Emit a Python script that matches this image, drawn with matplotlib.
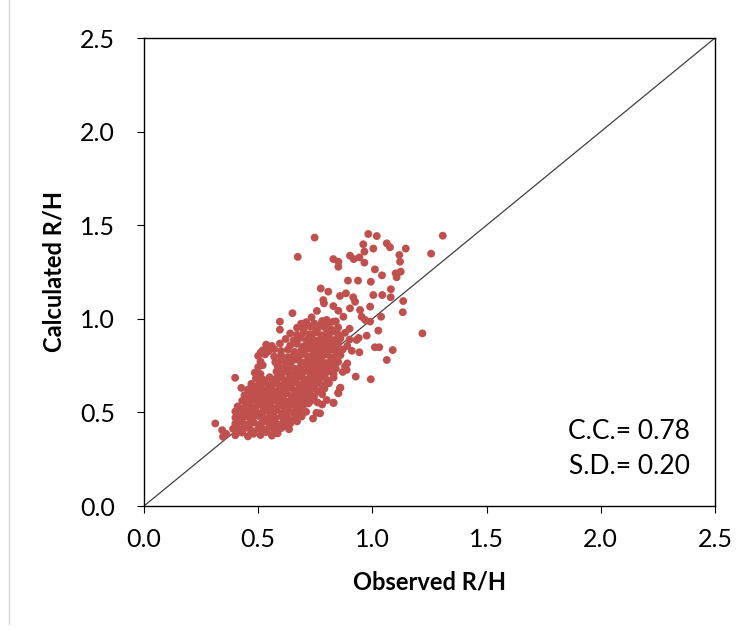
import numpy as np
import matplotlib
matplotlib.use("Agg")
import matplotlib.pyplot as plt
from matplotlib.lines import Line2D

# ---- data (Observed R/H, Calculated R/H) ----
obs_upper = [1.308, 0.982, 1.019, 0.747, 0.960, 1.063, 1.077, 1.146, 1.004, 0.965, 1.257, 1.118,
             0.902, 0.673, 0.943, 0.829, 0.918, 0.851, 1.121, 0.965, 0.851, 1.011, 1.124, 1.102,
             1.042, 1.106, 0.893, 0.937, 0.993, 0.774, 1.081, 0.807, 0.884, 1.043, 1.004, 0.858,
             0.916, 1.080, 0.785, 1.135, 0.924, 0.829, 0.990, 0.902, 0.946, 0.757, 0.851, 1.133,
             0.650, 0.873, 0.953, 1.038, 0.800, 0.968, 0.829, 0.990, 0.778, 0.734, 0.788]
calc_upper = [1.444, 1.453, 1.442, 1.434, 1.398, 1.403, 1.382, 1.375, 1.375, 1.359, 1.348, 1.341,
              1.337, 1.331, 1.328, 1.319, 1.319, 1.305, 1.305, 1.300, 1.278, 1.264, 1.252, 1.243,
              1.232, 1.222, 1.204, 1.204, 1.198, 1.162, 1.158, 1.145, 1.136, 1.127, 1.127, 1.122,
              1.115, 1.115, 1.100, 1.095, 1.091, 1.068, 1.065, 1.056, 1.047, 1.042, 1.043, 1.035,
              1.030, 1.011, 1.011, 1.011, 0.994, 0.994, 0.985, 0.985, 0.976, 1.008, 1.083]

obs_mid = [1.219, 1.026, 0.975, 1.011, 1.030, 1.089, 1.063, 0.993, 0.927, 0.943, 0.931, 0.887,
           0.858, 0.851, 0.829, 0.771, 0.399, 0.426, 0.312, 0.342, 0.346, 0.511, 0.595, 0.595,
           0.688]
calc_mid = [0.922, 0.937, 0.910, 0.848, 0.848, 0.833, 0.780, 0.677, 0.691, 0.821, 0.887, 0.727,
            0.629, 0.602, 0.552, 0.495, 0.685, 0.631, 0.441, 0.405, 0.370, 0.820, 0.985, 0.942,
            0.974]

obs_core = [
    0.36, 0.40, 0.43, 0.455, 0.48, 0.51, 0.535, 0.56, 0.585,
    0.39, 0.42, 0.445, 0.47, 0.50, 0.525, 0.55, 0.575, 0.60, 0.635,
    0.40, 0.43, 0.455, 0.48, 0.51, 0.535, 0.56, 0.585, 0.61, 0.64, 0.67,
    0.40, 0.425, 0.45, 0.475, 0.50, 0.525, 0.55, 0.575, 0.60, 0.63, 0.66, 0.69, 0.74,
    0.40, 0.43, 0.455, 0.48, 0.505, 0.53, 0.555, 0.58, 0.605, 0.63, 0.655, 0.68, 0.71, 0.755,
    0.41, 0.44, 0.465, 0.49, 0.515, 0.54, 0.565, 0.59, 0.615, 0.64, 0.665, 0.69, 0.72, 0.78,
    0.43, 0.455, 0.48, 0.505, 0.53, 0.555, 0.58, 0.605, 0.63, 0.655, 0.68, 0.705, 0.73, 0.76, 0.80, 0.83,
    0.44, 0.47, 0.495, 0.52, 0.545, 0.57, 0.595, 0.62, 0.645, 0.67, 0.695, 0.72, 0.745, 0.78, 0.85,
    0.455, 0.48, 0.51, 0.535, 0.56, 0.585, 0.61, 0.635, 0.66, 0.685, 0.71, 0.735, 0.76, 0.79, 0.86,
    0.47, 0.50, 0.53, 0.555, 0.58, 0.605, 0.63, 0.655, 0.68, 0.705, 0.73, 0.755, 0.78, 0.81,
    0.49, 0.52, 0.55, 0.575, 0.60, 0.625, 0.65, 0.675, 0.70, 0.725, 0.75, 0.775, 0.80, 0.83,
    0.485, 0.51, 0.58, 0.605, 0.63, 0.655, 0.68, 0.705, 0.73, 0.755, 0.78, 0.805, 0.83, 0.87,
    0.50, 0.52, 0.585, 0.61, 0.635, 0.66, 0.685, 0.71, 0.735, 0.76, 0.785, 0.81, 0.84, 0.88,
    0.51, 0.575, 0.60, 0.625, 0.65, 0.675, 0.70, 0.725, 0.75, 0.775, 0.80, 0.825, 0.85, 0.89,
    0.50, 0.53, 0.57, 0.60, 0.63, 0.655, 0.68, 0.705, 0.73, 0.755, 0.78, 0.805, 0.83, 0.86,
    0.52, 0.545, 0.57, 0.60, 0.63, 0.66, 0.69, 0.715, 0.74, 0.765, 0.79, 0.815, 0.84, 0.87, 0.91,
    0.535, 0.56, 0.595, 0.64, 0.67, 0.70, 0.725, 0.75, 0.775, 0.80, 0.825, 0.85, 0.89,
    0.62, 0.655, 0.685, 0.71, 0.735, 0.76, 0.785, 0.81, 0.835, 0.86, 0.90, 0.94,
    0.64, 0.67, 0.70, 0.725, 0.75, 0.775, 0.80, 0.825, 0.85, 0.88,
    0.67, 0.70, 0.73, 0.76, 0.79, 0.82, 0.85, 0.90,
    0.71, 0.745, 0.78, 0.81, 0.84,
]
calc_core = [
    0.385, 0.378, 0.392, 0.372, 0.386, 0.379, 0.395, 0.376, 0.388,
    0.412, 0.405, 0.418, 0.402, 0.414, 0.408, 0.420, 0.404, 0.416, 0.410,
    0.440, 0.448, 0.435, 0.446, 0.438, 0.450, 0.442, 0.436, 0.447, 0.440, 0.452,
    0.472, 0.465, 0.478, 0.470, 0.481, 0.467, 0.476, 0.469, 0.480, 0.472, 0.466, 0.478, 0.467,
    0.505, 0.498, 0.510, 0.502, 0.495, 0.508, 0.500, 0.512, 0.497, 0.506, 0.499, 0.511, 0.503, 0.498,
    0.532, 0.525, 0.538, 0.528, 0.540, 0.530, 0.523, 0.536, 0.529, 0.541, 0.527, 0.535, 0.548, 0.542,
    0.562, 0.555, 0.568, 0.558, 0.566, 0.552, 0.563, 0.571, 0.556, 0.565, 0.558, 0.570, 0.561, 0.553, 0.566, 0.550,
    0.592, 0.585, 0.598, 0.588, 0.596, 0.583, 0.594, 0.601, 0.587, 0.595, 0.590, 0.599, 0.586, 0.597, 0.605,
    0.622, 0.615, 0.628, 0.618, 0.626, 0.613, 0.624, 0.631, 0.617, 0.625, 0.619, 0.628, 0.614, 0.627, 0.632,
    0.652, 0.645, 0.658, 0.648, 0.656, 0.643, 0.654, 0.661, 0.647, 0.655, 0.649, 0.658, 0.644, 0.656,
    0.682, 0.676, 0.688, 0.678, 0.686, 0.673, 0.684, 0.691, 0.677, 0.685, 0.679, 0.688, 0.674, 0.686,
    0.712, 0.705, 0.718, 0.708, 0.716, 0.703, 0.714, 0.721, 0.707, 0.715, 0.709, 0.718, 0.704, 0.716,
    0.742, 0.752, 0.748, 0.738, 0.746, 0.733, 0.744, 0.751, 0.737, 0.745, 0.739, 0.748, 0.734, 0.746,
    0.772, 0.768, 0.778, 0.765, 0.776, 0.781, 0.767, 0.775, 0.769, 0.778, 0.764, 0.776, 0.770, 0.762,
    0.802, 0.810, 0.798, 0.806, 0.795, 0.808, 0.801, 0.811, 0.797, 0.805, 0.799, 0.808, 0.794, 0.806,
    0.832, 0.826, 0.838, 0.828, 0.836, 0.823, 0.834, 0.841, 0.827, 0.835, 0.829, 0.838, 0.824, 0.836, 0.829,
    0.862, 0.855, 0.868, 0.858, 0.866, 0.853, 0.864, 0.871, 0.857, 0.865, 0.859, 0.868, 0.855,
    0.892, 0.885, 0.898, 0.888, 0.896, 0.883, 0.894, 0.901, 0.887, 0.895, 0.889, 0.898,
    0.922, 0.915, 0.928, 0.918, 0.926, 0.913, 0.924, 0.931, 0.917, 0.925,
    0.952, 0.945, 0.958, 0.948, 0.956, 0.943, 0.954, 0.947,
    0.982, 0.975, 0.988, 0.978, 0.986,
]

obs_fill = [
    0.415, 0.47, 0.52, 0.57,
    0.405, 0.46, 0.51, 0.56, 0.615,
    0.415, 0.47, 0.52, 0.57, 0.625,
    0.41, 0.465, 0.515, 0.565, 0.615, 0.67,
    0.42, 0.475, 0.525, 0.575, 0.63,
    0.45, 0.50, 0.55, 0.60, 0.655, 0.70,
    0.46, 0.51, 0.56, 0.61, 0.66, 0.71,
    0.47, 0.525, 0.575, 0.625, 0.675, 0.725,
    0.49, 0.545, 0.595, 0.645, 0.695, 0.745,
    0.51, 0.565, 0.615, 0.665, 0.715, 0.765,
    0.59, 0.64, 0.69, 0.74, 0.79,
    0.62, 0.67, 0.72, 0.77, 0.82,
    0.64, 0.69, 0.74, 0.79, 0.84,
    0.67, 0.72, 0.77, 0.82,
    0.70, 0.75, 0.80, 0.85,
    0.74, 0.79, 0.84,
    0.77, 0.82,
]
calc_fill = [
    0.398, 0.392, 0.401, 0.394,
    0.427, 0.421, 0.429, 0.423, 0.426,
    0.456, 0.461, 0.452, 0.458, 0.454,
    0.489, 0.493, 0.486, 0.491, 0.488, 0.494,
    0.517, 0.513, 0.519, 0.514, 0.518,
    0.546, 0.543, 0.549, 0.544, 0.547, 0.541,
    0.577, 0.573, 0.579, 0.574, 0.578, 0.572,
    0.606, 0.603, 0.609, 0.604, 0.607, 0.602,
    0.636, 0.633, 0.639, 0.634, 0.637, 0.632,
    0.666, 0.663, 0.669, 0.664, 0.667, 0.662,
    0.696, 0.693, 0.699, 0.694, 0.697,
    0.731, 0.727, 0.733, 0.728, 0.732,
    0.761, 0.757, 0.763, 0.758, 0.762,
    0.791, 0.787, 0.793, 0.788,
    0.821, 0.817, 0.823, 0.818,
    0.851, 0.847, 0.853,
    0.881, 0.877,
]

observed = np.array(obs_upper + obs_mid + obs_core + obs_fill)
calculated = np.array(calc_upper + calc_mid + calc_core + calc_fill)

axis_ticks = [0.0, 0.5, 1.0, 1.5, 2.0, 2.5]
tick_labels = ["0.0", "0.5", "1.0", "1.5", "2.0", "2.5"]
stats_text = ["C.C.= 0.78", "S.D.= 0.20"]

plt.rcParams['font.family'] = ['Lato', 'DejaVu Sans']

fig = plt.figure(figsize=(7.56, 6.30), dpi=100)
ax = fig.add_axes([144/756, 1-506/630, (715-144)/756, (506-38)/630])

ax.plot([0, 2.5], [0, 2.5], color="#404040", lw=0.9, zorder=1)
ax.scatter(observed, calculated, s=32, color="#C0504D", edgecolors="none", zorder=2)

ax.set_xlim(0, 2.5)
ax.set_ylim(0, 2.5)
ax.set_xticks(axis_ticks)
ax.set_xticklabels(tick_labels)
ax.set_yticks(axis_ticks)
ax.set_yticklabels(tick_labels)
ax.tick_params(axis='both', direction='out', length=5, width=0.8, labelsize=18,
               colors="#000000")
ax.tick_params(axis='x', pad=11)
ax.tick_params(axis='y', pad=16)
for s in ax.spines.values():
    s.set_linewidth(1.0)
    s.set_color("#000000")

ax.set_xlabel("Observed R/H", fontsize=17, fontweight='bold', labelpad=14)
ax.set_ylabel("Calculated R/H", fontsize=17, fontweight='bold', labelpad=10)

ax.text(0.956, 0.160, stats_text[0], transform=ax.transAxes, ha='right', va='center', fontsize=19)
ax.text(0.956, 0.085, stats_text[1], transform=ax.transAxes, ha='right', va='center', fontsize=19)

fig.add_artist(Line2D([9/756, 9/756], [1-624/630, 1.0], transform=fig.transFigure,
                      color="#d9d9d9", lw=1.0))

fig.savefig("out.png", dpi=100)
